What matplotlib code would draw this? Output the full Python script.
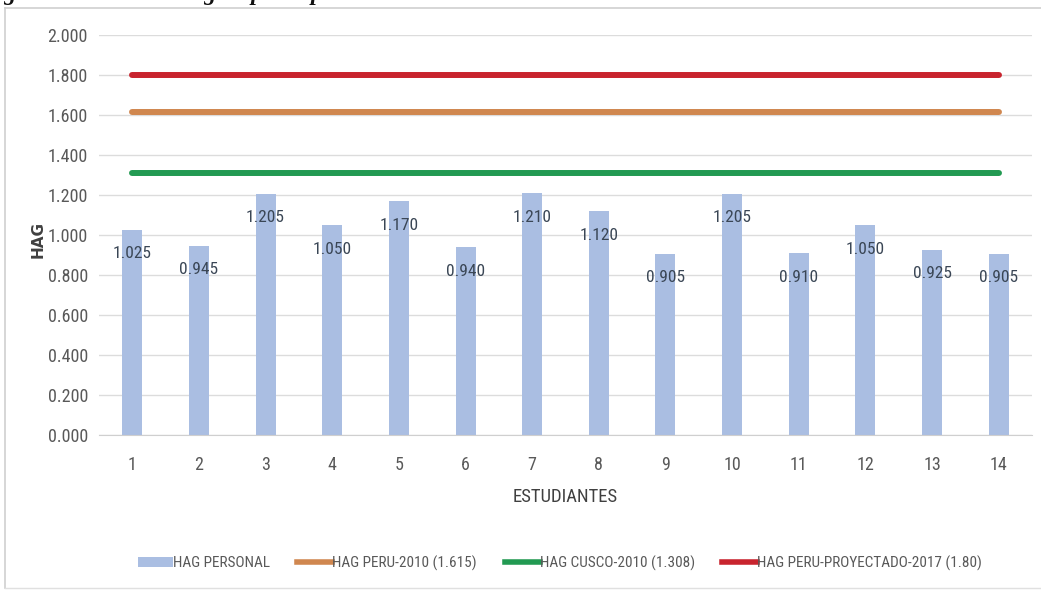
import matplotlib
matplotlib.use("Agg")
import matplotlib.pyplot as plt
from matplotlib import font_manager
from matplotlib.lines import Line2D
from matplotlib.patches import Patch

# Data
estudiantes = list(range(1, 15))
hag_personal = [1.025, 0.945, 1.205, 1.050, 1.170, 0.940, 1.210,
                1.120, 0.905, 1.205, 0.910, 1.050, 0.925, 0.905]
hag_peru_2010 = 1.615
hag_cusco_2010 = 1.308
hag_peru_2017 = 1.80
y_ticks = [0.0, 0.2, 0.4, 0.6, 0.8, 1.0, 1.2, 1.4, 1.6, 1.8, 2.0]
legend_labels = ['HAG PERSONAL', 'HAG PERU-2010 (1.615)',
                 'HAG CUSCO-2010 (1.308)', 'HAG PERU-PROYECTADO-2017 (1.80)']

# Pick a narrow sans face if one is installed
fonts = font_manager.fontManager.ttflist
names = {f.name for f in fonts}
narrow = None
for cand in ['Liberation Sans Narrow', 'Roboto Condensed', 'Open Sans Condensed',
             'DejaVu Sans Condensed']:
    if cand in names:
        narrow = cand
        break
stretch = 'normal'
if narrow is None:
    cond = [f for f in fonts if f.name == 'DejaVu Sans' and
            (f.stretch == 'condensed' or (isinstance(f.stretch, int) and f.stretch < 500))]
    if cond:
        narrow = 'DejaVu Sans'
        stretch = 'condensed'
if narrow is None:
    narrow = 'Roboto'
SCALE = 1.0 if (stretch == 'condensed' or narrow != 'Roboto') else 0.88
plt.rcParams['font.family'] = [narrow, 'DejaVu Sans']
plt.rcParams['font.stretch'] = stretch

BAR = '#aabee2'
ORANGE = '#d0874f'
GREEN = '#229a52'
RED = '#c8242e'
GRID = '#dcdcdc'
TXT = '#595959'

W, H = 1041, 592
fig = plt.figure(figsize=(W / 100, H / 100), dpi=100)
fig.patch.set_facecolor('white')

# Caption line, mostly above the top edge of the image
fig.text(-18 / W, 1 - 0.3 / H,
         'Figura 6. Huella ecológica per cápita de los estudiantes de la Institución Educativa Andina',
         family='Liberation Serif', style='italic', weight='bold', fontsize=17,
         stretch='normal', color='#111111', va='baseline', ha='left')

# Chart frame
fig.add_artist(Line2D([5 / W, 5 / W], [1 - 8 / H, 1 - 588 / H],
                      transform=fig.transFigure, color='#d0d0d0', lw=1.2))
fig.add_artist(Line2D([5 / W, 1.0], [1 - 8 / H, 1 - 8 / H],
                      transform=fig.transFigure, color='#d0d0d0', lw=1.2))
fig.add_artist(Line2D([5 / W, 1.0], [1 - 588 / H, 1 - 588 / H],
                      transform=fig.transFigure, color='#e0e0e0', lw=1.0))

ax = fig.add_axes([99 / W, 1 - 435 / H, (1032 - 99) / W, (435 - 35) / H])
ax.set_xlim(0.5, 14.5)
ax.set_ylim(0, 2.0)

ax.bar(estudiantes, hag_personal, width=0.3, color=BAR, zorder=2)
ax.plot([estudiantes[0], estudiantes[-1]], [hag_peru_2010] * 2, color=ORANGE, lw=4.3,
        solid_capstyle='round', zorder=3)
ax.plot([estudiantes[0], estudiantes[-1]], [hag_cusco_2010] * 2, color=GREEN, lw=4.3,
        solid_capstyle='round', zorder=3)
ax.plot([estudiantes[0], estudiantes[-1]], [hag_peru_2017] * 2, color=RED, lw=4.3,
        solid_capstyle='round', zorder=3)

for x, v in zip(estudiantes, hag_personal):
    ax.text(x, v - 0.12, f'{v:.3f}', ha='center', va='center',
            fontsize=12.5 * SCALE, color='#3a4655', zorder=4)

ax.set_yticks(y_ticks)
ax.set_yticklabels([f'{t:.3f}' for t in y_ticks])
ax.set_xticks(estudiantes)
ax.set_xticklabels([str(e) for e in estudiantes])
ax.grid(axis='y', color=GRID, lw=1.0, zorder=0)
ax.set_axisbelow(True)
for s in ['top', 'right', 'left']:
    ax.spines[s].set_visible(False)
ax.spines['bottom'].set_color('#cfcfcf')
ax.tick_params(axis='both', length=0, labelsize=13 * SCALE, colors=TXT)
ax.tick_params(axis='y', pad=8)
ax.tick_params(axis='x', pad=15)

ax.set_ylabel('HAG', fontsize=11, weight='bold', color='#404040',
              family='DejaVu Sans', stretch='normal')
ax.yaxis.set_label_coords(-(99 - 46) / (1032 - 99), 0.49)
ax.set_xlabel('ESTUDIANTES', fontsize=13.5 * SCALE, color='#404040', labelpad=10)

handles = [Patch(facecolor=BAR, edgecolor='none'),
           Line2D([0], [0], color=ORANGE, lw=4),
           Line2D([0], [0], color=GREEN, lw=4),
           Line2D([0], [0], color=RED, lw=4)]
fig.legend(handles, legend_labels, loc='center', ncol=4,
           bbox_to_anchor=(560 / W, 1 - 563 / H), frameon=False,
           fontsize=11 * SCALE, labelcolor=TXT, handlelength=2.3,
           handletextpad=0.0, columnspacing=1.8)

fig.savefig('out.png', dpi=100, facecolor='white')
